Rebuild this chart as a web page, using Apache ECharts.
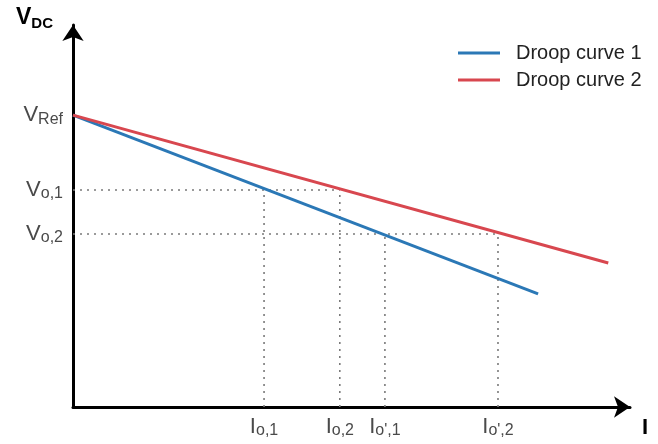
<!DOCTYPE html>
<html>
<head>
<meta charset="utf-8">
<script src="https://cdn.jsdelivr.net/npm/echarts@6/dist/echarts.min.js"></script>
<style>
  html, body { margin: 0; padding: 0; background: #fff; }
  #main { width: 658px; height: 444px; }
</style>
</head>
<body>
<div id="main"></div>
<script>
// values (arbitrary 0..100 units on both axes)
var curveNames = ['Droop curve 1', 'Droop curve 2'];
var curve1 = [[0, 76.4], [83.5, 29.6]];
var curve2 = [[0, 76.4], [96.1, 37.7]];
var vRef = 76.4;
var vLevels = [56.8, 45.3];            // V0,1  V0,2
var iPoints = [34.3, 47.9, 56.0, 76.3]; // I0,1  I0,2  I0',1  I0',2
var yTickValues = [vRef, vLevels[0], vLevels[1]];
var yTickSubs = ['Ref', 'o,1', 'o,2'];
var xTickSubs = ['o,1', 'o,2', "o',1", "o',2"];

var FONT = '"Liberation Sans", Arial, sans-serif';
var BLUE = '#2b78b6';
var RED = '#d8474f';
var GUIDE = '#7a7a7a';

var chart = echarts.init(document.getElementById('main'));

function guide(points) {
  return {
    type: 'line',
    data: points,
    symbol: 'none',
    silent: true,
    lineStyle: { color: GUIDE, width: 1.6, type: [2, 5] },
    z: 1
  };
}

var subRich = {
  v: { fontSize: 22, lineHeight: 24, color: '#4a4a4a', fontFamily: FONT },
  s: { fontSize: 16, lineHeight: 20, verticalAlign: 'bottom', color: '#4a4a4a', fontFamily: FONT }
};

var option = {
  animation: false,
  backgroundColor: '#fff',
  grid: { left: 73, right: 28, top: 25, bottom: 37 },
  legend: {
    data: curveNames,
    orient: 'vertical',
    left: 453,
    top: 36,
    icon: 'rect',
    itemWidth: 42,
    itemHeight: 3,
    itemGap: 3,
    textStyle: { fontSize: 20, lineHeight: 24, color: '#222', fontFamily: FONT, padding: [0, 0, 0, 11] }
  },
  xAxis: {
    type: 'value',
    min: 0,
    max: 100,
    name: 'I',
    nameLocation: 'end',
    nameGap: 12,
    nameTextStyle: { fontSize: 22, fontWeight: 'bold', color: '#000', fontFamily: FONT, verticalAlign: 'top', padding: [10, 0, 0, 0] },
    axisLine: { lineStyle: { color: '#000', width: 3 }, symbol: ['none', 'arrow'], symbolSize: [16, 16] },
    axisTick: { show: false },
    splitLine: { show: false },
    axisLabel: {
      customValues: iPoints,
      margin: 8,
      formatter: function (val) {
        var i = iPoints.indexOf(val);
        return '{v|I}{s|' + xTickSubs[i] + '}';
      },
      rich: subRich
    }
  },
  yAxis: {
    type: 'value',
    min: 0,
    max: 100,
    name: '{v|V}{s|DC}',
    nameLocation: 'end',
    nameGap: -6,
    nameTextStyle: {
      align: 'right',
      verticalAlign: 'bottom',
      padding: [0, 20, 0, 0],
      rich: {
        v: { fontSize: 23, lineHeight: 26, fontWeight: 'bold', color: '#000', fontFamily: FONT },
        s: { fontSize: 15, lineHeight: 21, verticalAlign: 'bottom', fontWeight: 'bold', color: '#000', fontFamily: FONT }
      }
    },
    axisLine: { lineStyle: { color: '#000', width: 3 }, symbol: ['none', 'arrow'], symbolSize: [16, 16] },
    axisTick: { show: false },
    splitLine: { show: false },
    axisLabel: {
      customValues: yTickValues,
      margin: 10,
      formatter: function (val) {
        var i = yTickValues.indexOf(val);
        return '{v|V}{s|' + yTickSubs[i] + '}';
      },
      rich: subRich
    }
  },
  series: [
    guide([[0, vLevels[0]], [iPoints[1], vLevels[0]]]),
    guide([[iPoints[0], 0], [iPoints[0], vLevels[0]]]),
    guide([[iPoints[1], 0], [iPoints[1], vLevels[0]]]),
    guide([[0, vLevels[1]], [iPoints[3], vLevels[1]]]),
    guide([[iPoints[2], 0], [iPoints[2], vLevels[1]]]),
    guide([[iPoints[3], 0], [iPoints[3], vLevels[1]]]),
    {
      name: curveNames[0],
      type: 'line',
      data: curve1,
      symbol: 'none',
      color: BLUE,
      lineStyle: { color: BLUE, width: 3 },
      z: 3
    },
    {
      name: curveNames[1],
      type: 'line',
      data: curve2,
      symbol: 'none',
      color: RED,
      lineStyle: { color: RED, width: 3 },
      z: 3
    }
  ]
};

chart.setOption(option);
</script>
</body>
</html>
